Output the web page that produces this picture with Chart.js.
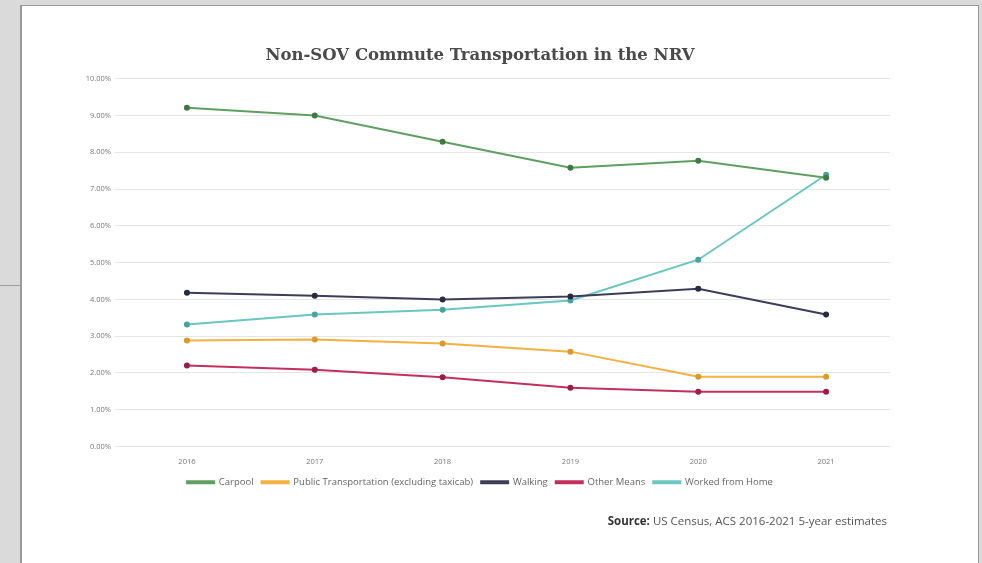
<!DOCTYPE html>
<html>
<head>
<meta charset="utf-8">
<script src="https://cdn.jsdelivr.net/npm/chart.js@4.4.1/dist/chart.umd.min.js"></script>
<style>
  html, body { margin: 0; padding: 0; }
  body {
    width: 982px; height: 563px; overflow: hidden; position: relative;
    background: #dadada; font-family: 'Open Sans', sans-serif;
  }
  #card {
    position: absolute; left: 20px; top: 5px; width: 956px; height: 600px;
    background: #fff; border: 1px solid #9a9a9a; border-left-width: 2px;
  }
  #edge { position: absolute; left: 0; top: 285px; width: 20px; height: 1px; background: #a0a0a0; }
  #wrap { position: absolute; left: 0; top: 0; width: 982px; height: 563px; }
  #source {
    position: absolute; right: 95px; top: 513px;
    font-size: 11.5px; color: #555; font-family: 'Open Sans', sans-serif;
  }
  #source b { color: #333; }
</style>
</head>
<body>
<div id="card"></div>
<div id="edge"></div>
<div id="wrap"><canvas id="commuteChart"></canvas></div>
<div id="source"><b>Source:</b> US Census, ACS 2016-2021 5-year estimates</div>
<script>
// Values (percent of commuters)
const years = ['2016', '2017', '2018', '2019', '2020', '2021'];
const carpool = [9.21, 9.00, 8.29, 7.58, 7.77, 7.31];
const publicTransit = [2.88, 2.91, 2.80, 2.58, 1.90, 1.90];
const walking = [4.18, 4.10, 4.00, 4.08, 4.29, 3.59];
const otherMeans = [2.20, 2.09, 1.88, 1.60, 1.49, 1.49];
const workedFromHome = [3.32, 3.59, 3.72, 3.97, 5.08, 7.39];

const seriesNames = ['Carpool', 'Public Transportation (excluding taxicab)', 'Walking', 'Other Means', 'Worked from Home'];
const seriesColors = ['#5f9f62', '#f5b041', '#3d3d58', '#c2305e', '#6ac6c0'];
const markerColors = ['#3f7a44', '#d99a2a', '#2a2a40', '#9a1f48', '#4aa39d'];

function makeDataset(i, values) {
    return {
        label: seriesNames[i],
        data: values,
        borderColor: seriesColors[i],
        backgroundColor: seriesColors[i],
        pointBackgroundColor: markerColors[i],
        pointBorderColor: markerColors[i],
        pointRadius: 2,
        borderWidth: 2,
        tension: 0
    };
}

const ctx = document.getElementById('commuteChart');
new Chart(ctx, {
    type: 'line',
    data: {
        labels: years,
        datasets: [
            makeDataset(0, carpool),
            makeDataset(1, publicTransit),
            makeDataset(2, walking),
            makeDataset(3, otherMeans),
            makeDataset(4, workedFromHome)
        ]
    },
    options: {
        responsive: true,
        maintainAspectRatio: false,
        animation: false,
        layout: { padding: { left: 70, right: 92, top: 0, bottom: 66 } },
        plugins: {
            title: {
                display: true,
                text: 'Non-SOV Commute Transportation in the NRV',
                color: '#4a4a4a',
                font: { family: "'DejaVu Serif', serif", size: 16.5, weight: 'bold' },
                padding: { top: 46, bottom: 13 }
            },
            legend: {
                position: 'bottom',
                labels: {
                    boxWidth: 27,
                    boxHeight: 2,
                    padding: 8,
                    color: '#666',
                    font: { family: "'Open Sans', sans-serif", size: 9.5 }
                }
            },
            tooltip: { enabled: false }
        },
        scales: {
            x: {
                offset: true,
                grid: { display: false },
                border: { display: false },
                ticks: { color: '#777', font: { family: "'Open Sans', sans-serif", size: 7.5 }, padding: 3 }
            },
            y: {
                min: 0,
                max: 10,
                afterFit: axis => { axis.width = 53; },
                grid: { color: '#e6e6e6' },
                border: { display: false },
                ticks: {
                    stepSize: 1,
                    color: '#777',
                    padding: 4,
                    font: { family: "'Open Sans', sans-serif", size: 7.5 },
                    callback: value => value.toFixed(2) + '%'
                }
            }
        }
    }
});
</script>
</body>
</html>
